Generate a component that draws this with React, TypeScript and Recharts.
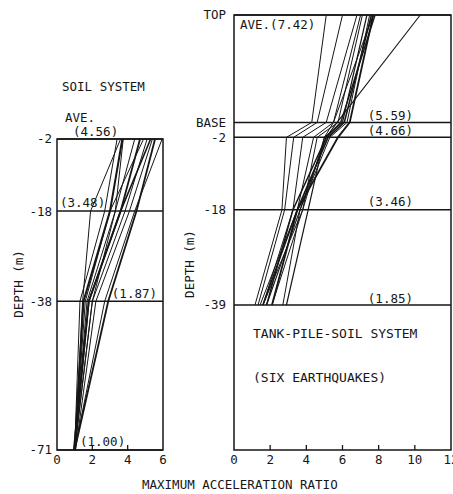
import React from 'react';
import { ScatterChart, Scatter, XAxis, YAxis, ReferenceLine, ReferenceArea } from 'recharts';

const FONT = '"DejaVu Sans Mono", "Liberation Mono", monospace';
const INK = '#161616';

// ---------- Soil system (left panel) ----------
const leftDepths = [-71, -38, -18, -2];
const leftDepthTicks = [-2, -18, -38, -71];
const leftXTicks = [0, 2, 4, 6];
// each run: ratio at depth -71, -38, -18, -2
const leftRuns = [
  [1.0, 1.45, 1.9, 3.6],
  [1.0, 1.3, 2.7, 3.4],
  [1.0, 1.5, 3.0, 3.7],
  [1.0, 1.7, 3.3, 4.4],
  [0.95, 1.8, 3.6, 4.7],
  [1.0, 2.0, 3.85, 5.1],
  [1.05, 2.2, 4.1, 5.4],
  [1.0, 2.7, 4.4, 5.95],
  [1.0, 2.9, 4.5, 5.55],
  [1.0, 2.0, 3.3, 3.75],
  [1.0, 1.6, 3.0, 4.9],
  [1.0, 1.8, 3.6, 5.3],
];
const leftWidths = [1, 1, 2, 1, 1.8, 1, 1, 1, 1.8, 1, 1, 1.6];
const leftAverages = [1.0, 1.87, 3.48, 4.56];

// ---------- Tank-pile-soil system (right panel) ----------
const rightLevels = [25, 1.3, -2, -18, -39];
const rightLevelLabels = ['TOP', 'BASE', '-2', '-18', '-39'];
const rightXTicks = [0, 2, 4, 6, 8, 10, 12];
// each run: ratio at TOP, BASE, -2, -18, -39
const rightRuns = [
  [10.3, 5.7, 5.1, 3.65, 1.8],
  [5.1, 4.3, 2.9, 2.65, 1.16],
  [6.0, 4.6, 3.3, 2.8, 1.33],
  [6.8, 5.1, 3.8, 3.26, 1.6],
  [7.0, 5.5, 4.4, 3.5, 1.44],
  [7.1, 5.75, 4.6, 3.8, 2.1],
  [7.35, 6.0, 5.0, 4.1, 2.9],
  [7.5, 6.25, 5.3, 3.65, 2.7],
  [7.7, 6.4, 5.75, 3.5, 2.1],
  [7.8, 5.9, 5.1, 3.26, 1.8],
  [7.7, 5.5, 5.0, 3.8, 1.6],
  [7.6, 6.1, 5.2, 3.5, 1.6],
];
const rightWidths = [1.1, 1, 1, 1, 1, 1, 1.2, 1, 1.8, 1.4, 1, 1.6];
const rightAverages = [7.42, 5.59, 4.66, 3.46, 1.85];

const toPoints = (run: number[], levels: number[]) => run.map((v, i) => ({ x: v, y: levels[i] }));

const txt = { fontFamily: FONT, fontSize: 12.5, fill: INK };

const NoShape = () => <g />;

const makeXTick = (max: number) => (props: any) => {
  const { x, y, payload } = props;
  const v = payload.value;
  return (
    <g>
      {v > 0 && v < max && <line x1={x} x2={x} y1={y} y2={y - 5} stroke={INK} strokeWidth={1.3} />}
      <text x={x} y={y + 14} textAnchor="middle" {...txt}>{v}</text>
    </g>
  );
};

const fmt = (v: number) => `(${v.toFixed(2)})`;

const lbl = (lines: { t: string; dx: number; dy: number; end?: boolean }[]) => (props: any) => {
  const vb = props.viewBox || {};
  return (
    <g>
      {lines.map((l, i) => (
        <text
          key={i}
          x={l.end ? vb.x + vb.width + l.dx : vb.x + l.dx}
          y={vb.y + l.dy}
          textAnchor={l.end ? 'end' : 'start'}
          {...txt}
        >
          {l.t}
        </text>
      ))}
    </g>
  );
};

export default function App() {
  return (
    <div style={{ position: 'absolute', left: 0, top: 0, width: 453, height: 494, background: '#fff', overflow: 'hidden' }}>
      <div style={{ position: 'absolute', left: 0, top: 0 }}>
        <ScatterChart width={200} height={494} margin={{ top: 139, right: 37, bottom: 14, left: 17 }}>
          <XAxis
            type="number"
            dataKey="x"
            domain={[0, 6]}
            ticks={leftXTicks}
            interval={0}
            axisLine={false}
            tickLine={false}
            tickSize={0}
            tickMargin={0}
            height={30}
            tick={makeXTick(6)}
          />
          <YAxis
            type="number"
            dataKey="y"
            domain={[-71, -2]}
            ticks={leftDepthTicks}
            interval={0}
            axisLine={false}
            tickLine={false}
            tickSize={0}
            tickMargin={5}
            width={40}
            tick={txt}
          />
          <ReferenceArea x1={0} x2={6} y1={-71} y2={-2} fill="none" stroke={INK} strokeWidth={1.5} />
          <ReferenceLine
            y={-2}
            stroke={INK}
            strokeWidth={1.5}
            label={lbl([
              { t: 'AVE.', dx: 8, dy: -17 },
              { t: fmt(leftAverages[3]), dx: 16, dy: -3 },
            ])}
          />
          <ReferenceLine y={-18} stroke={INK} strokeWidth={1.5} label={lbl([{ t: fmt(leftAverages[2]), dx: 3, dy: -4 }])} />
          <ReferenceLine y={-38} stroke={INK} strokeWidth={1.5} label={lbl([{ t: fmt(leftAverages[1]), dx: -6, dy: -3, end: true }])} />
          <ReferenceLine y={-71} stroke={INK} strokeWidth={1.5} label={lbl([{ t: fmt(leftAverages[0]), dx: 23, dy: -4 }])} />
          {leftRuns.map((run, i) => (
            <Scatter
              key={i}
              data={toPoints(run, leftDepths)}
              line={{ stroke: INK, strokeWidth: leftWidths[i] }}
              shape={NoShape}
              isAnimationActive={false}
            />
          ))}
        </ScatterChart>
      </div>
      <div style={{ position: 'absolute', left: 180, top: 0 }}>
        <ScatterChart width={273} height={494} margin={{ top: 15, right: 2, bottom: 14, left: 4 }}>
          <XAxis
            type="number"
            dataKey="x"
            domain={[0, 12]}
            ticks={rightXTicks}
            interval={0}
            axisLine={false}
            tickLine={false}
            tickSize={0}
            tickMargin={0}
            height={30}
            tick={makeXTick(12)}
          />
          <YAxis
            type="number"
            dataKey="y"
            domain={[-71, 25]}
            ticks={rightLevels}
            interval={0}
            tickFormatter={(v: number) => rightLevelLabels[rightLevels.indexOf(v)] ?? ''}
            axisLine={false}
            tickLine={false}
            tickSize={0}
            tickMargin={8}
            width={50}
            tick={txt}
          />
          <ReferenceArea x1={0} x2={12} y1={-71} y2={25} fill="none" stroke={INK} strokeWidth={1.5} />
          <ReferenceLine y={25} stroke={INK} strokeWidth={1.5} label={lbl([{ t: `AVE.${fmt(rightAverages[0])}`, dx: 6, dy: 14 }])} />
          <ReferenceLine y={1.3} stroke={INK} strokeWidth={1.5} label={lbl([{ t: fmt(rightAverages[1]), dx: -38, dy: -2, end: true }])} />
          <ReferenceLine y={-2} stroke={INK} strokeWidth={1.5} label={lbl([{ t: fmt(rightAverages[2]), dx: -38, dy: -2, end: true }])} />
          <ReferenceLine y={-18} stroke={INK} strokeWidth={1.5} label={lbl([{ t: fmt(rightAverages[3]), dx: -38, dy: -4, end: true }])} />
          <ReferenceLine y={-39} stroke={INK} strokeWidth={1.5} label={lbl([{ t: fmt(rightAverages[4]), dx: -38, dy: -2, end: true }])} />
          {rightRuns.map((run, i) => (
            <Scatter
              key={i}
              data={toPoints(run, rightLevels)}
              line={{ stroke: INK, strokeWidth: rightWidths[i] }}
              shape={NoShape}
              isAnimationActive={false}
            />
          ))}
        </ScatterChart>
      </div>
      <svg width={453} height={494} style={{ position: 'absolute', left: 0, top: 0, pointerEvents: 'none' }}>
        <text x={62} y={91} {...txt}>SOIL SYSTEM</text>
        <text x={19} y={284} textAnchor="middle" transform="rotate(-90 19 284)" dy="0.35em" {...txt}>DEPTH (m)</text>
        <text x={190} y={264} textAnchor="middle" transform="rotate(-90 190 264)" dy="0.35em" {...txt}>DEPTH (m)</text>
        <text x={253} y={338} {...txt} fontSize={13}>TANK-PILE-SOIL SYSTEM</text>
        <text x={253} y={382} {...txt} fontSize={13}>(SIX EARTHQUAKES)</text>
        <text x={142} y={489} {...txt}>MAXIMUM ACCELERATION RATIO</text>
      </svg>
    </div>
  );
}
